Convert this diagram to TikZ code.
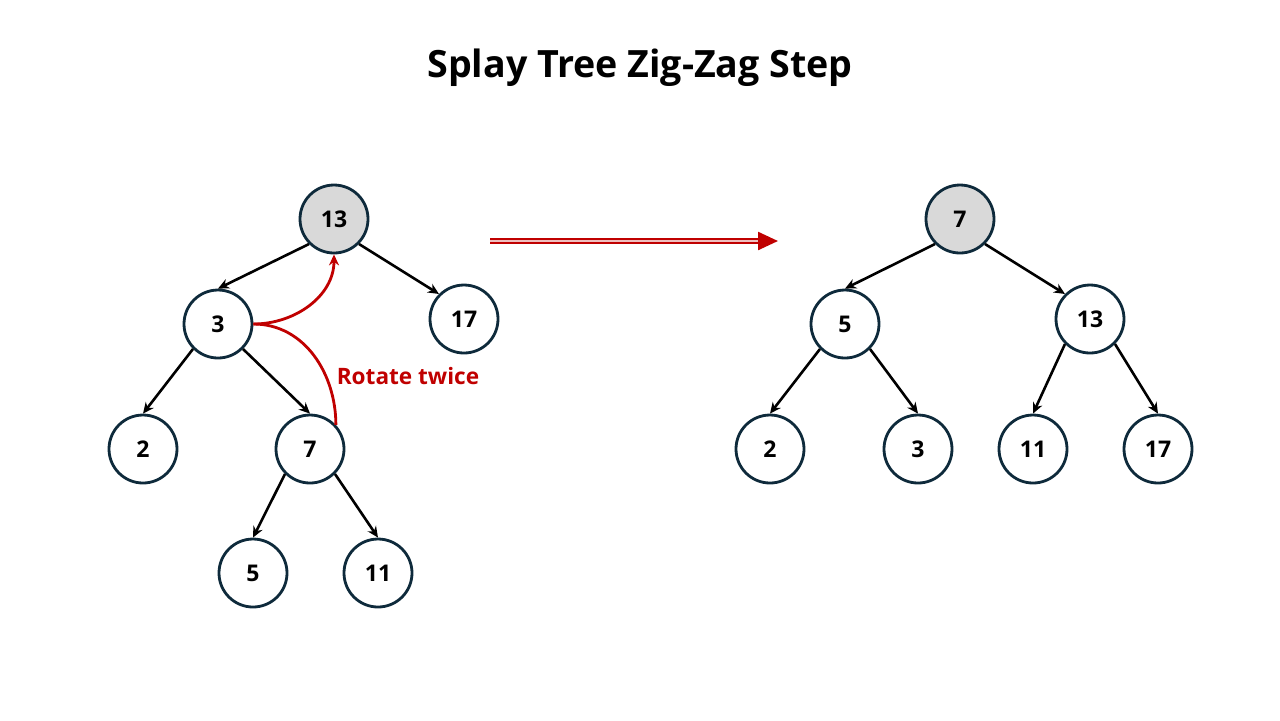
\documentclass[tikz,border=0pt]{standalone}
\usepackage{fontspec}
\setmainfont{Open Sans}
\usetikzlibrary{arrows.meta}

\definecolor{keyline}{HTML}{0E2A3B}
\definecolor{rotred}{HTML}{C00000}
\definecolor{rootgray}{HTML}{D9D9D9}

\tikzset{
  key/.style={circle, draw=keyline, line width=1.4pt, minimum size=34pt, inner sep=0pt,
    fill=white, font=\bfseries\fontsize{11.5}{13}\selectfont},
  rootkey/.style={key, fill=rootgray},
  link/.style={line width=1.3pt, -{Stealth[length=5.5pt,width=5pt]}},
  rotlink/.style={rotred, line width=1.4pt},
}

\begin{document}
\begin{tikzpicture}[x=0.5pt, y=-0.5pt]
  \useasboundingbox (0,0) rectangle (1280,720);

  % title
  \node (title) at (640,68) {\bfseries\fontsize{18.8}{22}\selectfont Splay Tree Zig-Zag Step};

  % tree before the step
  \node[rootkey] (l13) at (334,219) {13};
  \node[key] (l3) at (218,324) {3};
  \node[key] (l17) at (464,319) {17};
  \node[key] (l2) at (143,449) {2};
  \node[key] (l7) at (310,449) {7};
  \node[key] (l5) at (253,573) {5};
  \node[key] (l11) at (378,573) {11};

  \draw[link] (l13.south west) -- (l3.north);
  \draw[link] (l13.south east) -- (l17.north west);
  \draw[link] (l3.south west) -- (l2.north);
  \draw[link] (l3.south east) -- (l7.north);
  \draw[link] (l7.south west) -- (l5.north);
  \draw[link] (l7.south east) -- (l11.north);

  % rotations
  \draw[rotlink, -{Stealth[length=5.5pt,width=5pt]}] (l3.east) to[out=0, in=-90] (l13.south);
  \draw[rotlink] (l3.east) to[out=0, in=90] (l7.43);
  \node[text=rotred, font=\bfseries\fontsize{11.3}{13}\selectfont] (rot) at (408,376) {Rotate twice};

  % step arrow
  \coordinate (stepfrom) at (490,241);
  \coordinate (stepto) at (778,241);
  \draw[draw=rotred, double=rotred!25, double distance=1pt, line width=1.2pt,
    -{Triangle[length=10pt,width=9pt]}] (stepfrom) -- (stepto);

  % tree after the step
  \node[rootkey] (r7) at (960,219) {7};
  \node[key] (r5) at (845,324) {5};
  \node[key] (r13) at (1090,319) {13};
  \node[key] (r2) at (770,449) {2};
  \node[key] (r3) at (918,449) {3};
  \node[key] (r11) at (1033,449) {11};
  \node[key] (r17) at (1158,449) {17};

  \draw[link] (r7.south west) -- (r5.north);
  \draw[link] (r7.south east) -- (r13.north west);
  \draw[link] (r5.south west) -- (r2.north);
  \draw[link] (r5.south east) -- (r3.north);
  \draw[link] (r13.south west) -- (r11.north);
  \draw[link] (r13.south east) -- (r17.north);
\end{tikzpicture}
\end{document}
